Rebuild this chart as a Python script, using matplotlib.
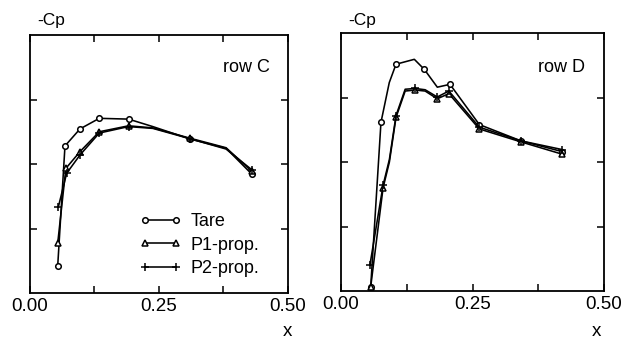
import numpy as np
import matplotlib.pyplot as plt

plt.rcParams['font.family'] = ['Liberation Sans', 'DejaVu Sans']

# row C pressure distribution
c_tare_x = [0.0537, 0.0678, 0.0969, 0.1343, 0.1909, 0.238, 0.310, 0.380, 0.4297]
c_tare_y = [0.105, 0.570, 0.636, 0.677, 0.674, 0.645, 0.597, 0.561, 0.461]
c_p1_x = [0.0537, 0.0695, 0.0969, 0.1343, 0.1909, 0.238, 0.310, 0.380, 0.4297]
c_p1_y = [0.193, 0.483, 0.548, 0.625, 0.648, 0.640, 0.600, 0.563, 0.472]
c_p2_x = [0.0550, 0.0710, 0.0969, 0.1343, 0.1909, 0.238, 0.310, 0.380, 0.4297]
c_p2_y = [0.334, 0.464, 0.535, 0.620, 0.645, 0.638, 0.598, 0.558, 0.478]

# row D pressure distribution
d_tare_x = [0.0565, 0.076, 0.0918, 0.1046, 0.1394, 0.1584, 0.1831, 0.2072, 0.263, 0.342, 0.421]
d_tare_y = [0.017, 0.654, 0.808, 0.879, 0.898, 0.859, 0.790, 0.801, 0.645, 0.582, 0.540]
d_p1_x = [0.0565, 0.080, 0.092, 0.1046, 0.122, 0.141, 0.160, 0.183, 0.205, 0.263, 0.342, 0.421]
d_p1_y = [0.017, 0.400, 0.500, 0.673, 0.775, 0.779, 0.775, 0.745, 0.765, 0.628, 0.578, 0.530]
d_p2_x = [0.0550, 0.080, 0.092, 0.1046, 0.122, 0.141, 0.160, 0.183, 0.205, 0.263, 0.342, 0.421]
d_p2_y = [0.101, 0.410, 0.510, 0.680, 0.782, 0.785, 0.780, 0.752, 0.775, 0.635, 0.582, 0.548]

labels = ['Tare', 'P1-prop.', 'P2-prop.']

c_marks = [0, 1, 2, 3, 4, 6, 8]
d_tare_marks = [0, 1, 3, 5, 7, 8, 9, 10]
d_p_marks = [0, 1, 3, 5, 7, 8, 9, 10, 11]

fig = plt.figure(figsize=(6.27, 3.42), dpi=100)
W, H = 627.0, 342.0
ax1 = fig.add_axes([30 / W, 1 - 293 / H, 258 / W, 258 / H])
ax2 = fig.add_axes([341 / W, 1 - 291 / H, 263 / W, 258 / H])

style = dict(color='black', lw=1.15)
mk_o = dict(marker='o', ms=4, mfc='white', mec='black', mew=1.1)
mk_t = dict(marker='^', ms=4.4, mfc='white', mec='black', mew=1.1)
mk_p = dict(marker='+', ms=6, mec='black', mew=1.1)

ax1.plot(c_tare_x, c_tare_y, markevery=c_marks, label=labels[0], **style, **mk_o)
ax1.plot(c_p1_x, c_p1_y, markevery=c_marks, label=labels[1], **style, **mk_t)
ax1.plot(c_p2_x, c_p2_y, markevery=c_marks, label=labels[2], **style, **mk_p)

ax2.plot(d_tare_x, d_tare_y, markevery=d_tare_marks, **style, **mk_o)
ax2.plot(d_p1_x, d_p1_y, markevery=d_p_marks, **style, **mk_t)
ax2.plot(d_p2_x, d_p2_y, markevery=d_p_marks, **style, **mk_p)

for ax in (ax1, ax2):
    ax.set_xlim(0, 0.5)
    ax.set_ylim(0, 1)
    ax.set_xticks([0, 0.25, 0.5])
    ax.set_xticklabels(['0.00', '0.25', '0.50'])
    ax.set_xticks([0.125, 0.375], minor=True)
    ax.set_yticks([0.25, 0.5, 0.75])
    ax.set_yticklabels([])
    ax.tick_params(which='both', direction='in', top=True, right=True,
                   length=5, width=1.1, labelsize=13.5, pad=3.5)
    for sp in ax.spines.values():
        sp.set_linewidth(1.3)

leg = ax1.legend(loc='center left', bbox_to_anchor=(0.426, 0.186), frameon=False,
                 numpoints=2, handlelength=2.3, handletextpad=0.5,
                 labelspacing=0.35, borderpad=0, borderaxespad=0, fontsize=13)

fig.text(37 / W, 1 - 25 / H, '-Cp', fontsize=12.5, ha='left', va='baseline')
fig.text(348 / W, 1 - 25 / H, '-Cp', fontsize=12.5, ha='left', va='baseline')
fig.text(270 / W, 1 - 72 / H, 'row C', fontsize=13, ha='right', va='baseline')
fig.text(585 / W, 1 - 72 / H, 'row D', fontsize=13, ha='right', va='baseline')
fig.text(287 / W, 0.018, 'x', fontsize=13.5, ha='center', va='baseline')
fig.text(596 / W, 0.018, 'x', fontsize=13.5, ha='center', va='baseline')

fig.savefig('out.png', dpi=100)
